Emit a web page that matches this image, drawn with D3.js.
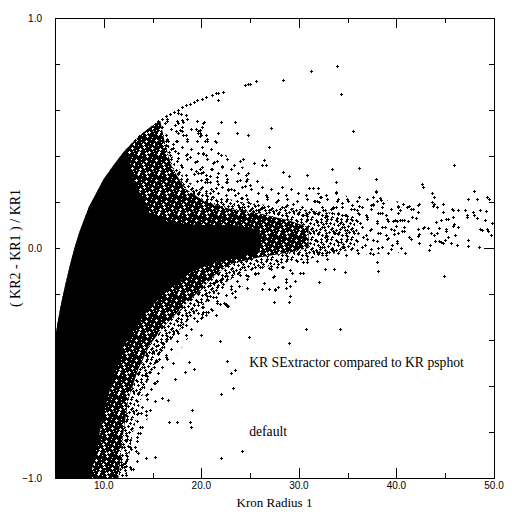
<!DOCTYPE html>
<html>
<head>
<meta charset="utf-8">
<script src="https://cdn.jsdelivr.net/npm/d3@7"></script>
<style>
  body { margin: 0; background: #fff; }
</style>
</head>
<body>
<div class="plot"></div>
<script>
// ticks
var xMajor = [10, 20, 30, 40];
var xLabels = [10, 20, 30, 40, 50];
var xMinor = [15, 25, 35, 45];
var yTicks = [-0.8, -0.6, -0.4, -0.2, 0, 0.2, 0.4, 0.6, 0.8];
var yLabels = [-1, 0, 1];

// upper envelope of the point cloud (left edge)
var envX = [5.0, 5.25, 5.5, 5.75, 6.0, 6.5, 7.0, 7.5, 8.0, 8.5, 9.0, 10.0, 11.0, 12.0, 12.4];
var envY = [-0.40, -0.33, -0.27, -0.22, -0.17, -0.08, 0.0, 0.07, 0.125, 0.18, 0.22, 0.30, 0.36, 0.415, 0.435];

// rest of the outline of the solid black core
var coreRight = [[13.0,0.30],[14.7,0.152],[16.8,0.11],[19.9,0.10],[23.3,0.10],[26.0,0.08],[26.0,-0.02],
  [23.3,-0.043],[21.4,-0.061],[18.8,-0.109],[15.8,-0.213],[13.7,-0.313],[12.0,-0.43],[10.9,-0.574],
  [9.9,-0.735],[9.3,-0.865],[8.6,-1.0]];

// heavily speckled zone round the core
var denseRight = [[13.2,0.47],[14.0,0.50],[14.8,0.527],[15.8,0.552],[16.3,0.45],[17.0,0.35],[18.3,0.26],
  [20.4,0.2],[23.0,0.17],[26.0,0.15],[29.0,0.12],[31.0,0.09],[31.0,0.0],[29.0,-0.02],[26.0,-0.04],
  [23.0,-0.07],[21.4,-0.117],[19.9,-0.183],[18.3,-0.248],[16.3,-0.335],[14.7,-0.422],[13.5,-0.53],
  [12.5,-0.661],[11.9,-0.835],[11.5,-1.0]];

// half speckled zone
var midRight = [[13.2,0.47],[14.0,0.50],[15.0,0.535],[16.3,0.50],[17.0,0.40],[18.3,0.30],[20.4,0.24],
  [24.0,0.20],[28.0,0.18],[32.0,0.16],[36.0,0.14],[36.0,0.0],[32.0,-0.04],[28.0,-0.07],[24.5,-0.10],
  [22.5,-0.15],[20.4,-0.24],[18.3,-0.33],[16.5,-0.42],[15.0,-0.52],[13.8,-0.66],[12.9,-0.82],[12.3,-1.0]];

// thinly speckled zone
var lightRight = [[13.2,0.47],[14.0,0.50],[16.0,0.562],[18.0,0.611],[20.0,0.55],[22.0,0.42],[26.0,0.30],
  [32.0,0.24],[40.5,0.20],[40.5,-0.02],[36.0,-0.03],[30.0,-0.08],[26.0,-0.12],[23.0,-0.20],[20.5,-0.30],
  [18.5,-0.40],[16.5,-0.52],[15.0,-0.66],[14.0,-0.82],[13.3,-1.0]];

// points lying on the envelope beyond the solid core
var envPts = [[12.8,0.45],[13.2,0.47],[13.6,0.485],[14.0,0.50],[14.4,0.515],[14.8,0.527],[15.2,0.54],
  [15.6,0.55],[16.0,0.562],[16.4,0.573],[16.8,0.583],[17.2,0.593],[17.6,0.602],[18.0,0.611],[18.4,0.62],
  [18.8,0.628],[19.2,0.635],[19.6,0.643],[20.1,0.65],[20.5,0.655],[21.1,0.667],[21.5,0.672],[21.7,0.675],[22.2,0.68]];

// scattered points above the stream
var upperPts = [[33.9,0.79],[31.2,0.77],[34.3,0.67],[24.5,0.71],[24.8,0.715],[25.0,0.715],[25.6,0.725],
  [28.4,0.73],[22.2,0.68],[21.7,0.642],[20.3,0.548],[20.2,0.545],[22.0,0.547],[23.4,0.547],[27.1,0.52],
  [35.5,0.507],[19.9,0.513],[20.0,0.49],[21.7,0.5],[23.7,0.499],[24.8,0.49],[20.6,0.465],[21.4,0.465],
  [26.9,0.438],[20.2,0.41],[22.0,0.403],[24.3,0.386],[24.0,0.378],[26.4,0.383],[25.4,0.368],[26.2,0.36],
  [26.6,0.36],[21.3,0.373],[22.1,0.354],[23.3,0.36],[21.1,0.342],[24.8,0.328],[28.4,0.329],[29.0,0.312],
  [30.8,0.316],[33.4,0.342],[36.2,0.347],[20.9,0.312],[20.0,0.328],[20.4,0.288],[20.6,0.287],[21.7,0.278],
  [22.6,0.288],[24.0,0.294],[24.6,0.29],[24.5,0.268],[25.0,0.272],[33.8,0.288],[37.9,0.299],[31.0,0.26],
  [31.4,0.26],[32.0,0.26],[33.8,0.242],[37.9,0.247],[20.0,0.26],[20.5,0.25],[21.2,0.25],[21.5,0.26],
  [22.7,0.254],[23.3,0.251],[23.5,0.23],[24.2,0.216],[26.7,0.222],[27.7,0.2],[27.9,0.207],[31.5,0.204],
  [31.7,0.204],[32.2,0.222],[34.0,0.211],[34.4,0.194],[35.0,0.203],[36.2,0.22],[36.2,0.184],[37.6,0.223],
  [38.3,0.216],[38.6,0.197],[37.4,0.186],[37.6,0.191],[40.2,0.183],[20.5,0.2],[20.9,0.194],[21.6,0.193],
  [22.0,0.178],[23.1,0.183],[23.9,0.178],[24.2,0.167],[25.0,0.167],[25.8,0.167],[26.9,0.167],[28.7,0.183],
  [29.4,0.19],[30.8,0.148],[31.6,0.158],[32.7,0.165],[33.5,0.178],[33.8,0.178],[35.6,0.171],[36.2,0.148],
  [38.3,0.151],[39.1,0.119],[39.6,0.119],
  [19.5,0.516],[19.7,0.51],[19.9,0.5],[19.9,0.487],[17.9,0.583],[18.0,0.557],[18.1,0.547],[16.5,0.553],
  [16.3,0.543],[17.3,0.536],[17.6,0.543],[17.4,0.507],[17.8,0.514],[18.0,0.507],[18.1,0.492],[18.5,0.464],
  [17.4,0.464],[17.1,0.452],[16.6,0.464],[16.4,0.449],[16.3,0.435],[16.1,0.428],[17.1,0.435],[17.3,0.42],
  [17.6,0.391],[17.9,0.362],[16.8,0.406],[18.5,0.409],[18.8,0.397],[19.4,0.375],[19.9,0.342],[20.2,0.332],
  [20.5,0.299],[20.0,0.296],[20.9,0.288],[21.2,0.371],[21.6,0.31],[22.0,0.404],[22.1,0.357],[22.5,0.288],
  [22.7,0.255],[20.4,0.465],[21.5,0.462],[20.2,0.412],[19.5,0.336],[19.2,0.322],
  [33.8,0.24],[36.2,0.22],[37.9,0.245],[38.4,0.209],[37.6,0.187],[35.4,0.187],[32.3,0.22],[32.1,0.2],
  [28.8,0.187],[24.1,0.216],[24.8,0.201],[25.5,0.183],[26.2,0.173],[20.9,0.24],[21.2,0.22],[20.6,0.226]];

// crosses in the stream between 30 and 40
var bandPts = [[30.4,0.143],[30.8,0.122],[31.7,0.152],[31.9,0.113],[32.5,0.165],[32.7,0.135],[32.8,0.109],
  [33.4,0.152],[33.5,0.174],[33.9,0.13],[34.2,0.109],[34.7,0.143],[34.9,0.078],[35.4,0.122],[35.6,0.065],
  [36.0,0.165],[36.3,0.109],[36.6,0.048],[37.0,0.135],[37.3,0.078],[37.6,0.035],[38.0,0.109],[38.3,0.065],
  [38.5,0.152],[38.8,0.091],[39.1,0.043],[39.7,0.078],[39.9,0.122],[40.1,0.022],[31.1,0.065],[31.7,0.035],
  [32.2,0.004],[32.7,0.048],[33.2,0.022],[33.7,0.065],[34.0,0.026],[34.5,0.004],[31.9,-0.017],[32.4,-0.022],
  [32.9,-0.017],[33.5,-0.009],[35.2,0.022],[36.0,-0.009],[36.8,0.013],[37.3,-0.022],[38.1,0.0],
  [39.1,-0.02],[37.6,-0.026],[39.5,0.013],[39.8,0.06],[40.0,0.096],[40.2,0.18]];

// tail beyond 40
var tailPts = [[45.9,0.361],[42.6,0.277],[42.7,0.267],[43.6,0.238],[43.9,0.22],[47.9,0.248],[47.3,0.212],
  [48.3,0.212],[49.3,0.22],[49.5,0.212],[40.4,0.165],[40.7,0.191],[41.1,0.178],[41.3,0.181],[41.5,0.168],
  [41.7,0.168],[42.2,0.186],[42.3,0.191],[42.2,0.155],[43.6,0.199],[43.7,0.184],[43.8,0.19],[44.2,0.177],
  [44.8,0.191],[44.8,0.155],[45.7,0.168],[45.8,0.164],[46.3,0.164],[47.0,0.164],[47.2,0.143],[47.2,0.133],
  [47.8,0.155],[47.9,0.143],[48.3,0.13],[49.2,0.161],[48.6,0.164],[45.3,0.126],[45.1,0.126],[45.8,0.136],
  [46.3,0.09],[45.8,0.096],[45.9,0.104],[45.1,0.075],[45.1,0.083],[45.0,0.035],[45.3,0.049],[45.6,0.02],
  [46.0,0.055],[46.2,0.013],[47.3,0.035],[47.3,0.01],[48.5,0.006],[48.6,0.081],[48.8,0.077],[49.3,0.081],
  [49.4,0.073],[49.7,0.057],[49.8,0.107],[49.1,0.122],[40.4,0.122],[40.6,0.12],[40.8,0.12],[40.8,0.093],
  [40.6,0.074],[40.8,0.074],[41.2,0.116],[41.6,0.133],[42.0,0.129],[41.3,0.048],[41.5,0.038],[42.2,0.082],
  [42.2,0.051],[42.3,0.06],[42.3,0.02],[42.7,0.086],[42.8,0.093],[43.2,0.086],[43.4,0.012],[43.3,-0.009],
  [43.5,0.064],[43.9,0.057],[44.0,0.03],[44.1,0.115],[44.4,0.086],[44.6,0.122],[44.8,0.155],[40.5,-0.001],
  [40.9,-0.023],[44.9,-0.122],[44.4,0.032],[44.6,0.027],[44.8,0.02],[44.2,0.066]];

// scattered points below the stream
var lowerPts = [[24.9,-0.388],[30.7,-0.354],[34.2,-0.354],[29.0,-0.413],[22.6,-0.491],[23.0,-0.545],
  [23.5,-0.53],[23.2,-0.609],[22.0,-0.636],[24.2,-0.884],[22.0,-0.915],[38.1,-0.099],[34.7,-0.106],
  [32.1,-0.149],[30.4,-0.11],[29.0,-0.236],[29.1,-0.21],[29.1,-0.165],[27.4,-0.236],[29.6,-0.143],
  [28.7,-0.135],[28.7,-0.146],[28.7,-0.175],[29.3,-0.11],[27.3,-0.127],[27.4,-0.12],[27.5,-0.183],
  [27.6,-0.18],[27.9,-0.168],[26.9,-0.18],[26.2,-0.18],[26.4,-0.154],[25.5,-0.11],[24.7,-0.175],
  [24.8,-0.122],[24.0,-0.119],[23.9,-0.165],[23.0,-0.165],[23.1,-0.197],[23.5,-0.214],[23.5,-0.188],
  [22.3,-0.24],[22.7,-0.252],[22.2,-0.157],[22.4,-0.122],[22.1,-0.136],[20.0,-0.38],[20.2,-0.28],
  [20.1,-0.30],[20.7,-0.28],[21.5,-0.293],[21.1,-0.271],[22.4,-0.245],[22.6,-0.254],[21.6,-0.24],
  [21.2,-0.214],[20.9,-0.21],[21.5,-0.214],[20.4,-0.2],[32.7,-0.093],[33.6,-0.093],[38.0,-0.062],
  [25.5,-0.084],[26.0,-0.084],[26.9,-0.088],[27.1,-0.077],[27.9,-0.068],[27.8,-0.084],[28.4,-0.084],
  [29.1,-0.094],[30.1,-0.109],[30.4,-0.06],[30.8,-0.06],[25.5,-0.115],[22.6,-0.136],[23.1,-0.119],
  [21.9,-0.139],[21.4,-0.149],[20.9,-0.161],[21.2,-0.153],
  [21.9,-0.403],[22.6,-0.493],[19.0,-0.706],[18.8,-0.755],[18.9,-0.78],[17.5,-0.758],[16.7,-0.758],
  [17.3,-0.571],[18.3,-0.541],[19.2,-0.526],[18.7,-0.494],[17.1,-0.499],[16.4,-0.475],[15.7,-0.483],
  [15.3,-0.497],[15.1,-0.585],[15.3,-0.588],[14.4,-0.636],[15.3,-0.665],[16.0,-0.652],[16.6,-0.661],
  [14.7,-0.704],[14.3,-0.707],[13.8,-0.719],[13.4,-0.722],[14.3,-0.915],[15.3,-0.91],[13.3,-0.881],
  [12.7,-0.951],[13.0,-0.962],[12.2,-0.934],[11.7,-0.907],[11.8,-0.945],
  [21.9,-0.243],[22.5,-0.243],[21.1,-0.27],[20.5,-0.277],[20.1,-0.287],[20.0,-0.306],[18.8,-0.291],
  [19.2,-0.306],[18.4,-0.335],[17.6,-0.306],[17.8,-0.335],[17.5,-0.36],[17.1,-0.375],[16.8,-0.386],
  [16.4,-0.397],[16.1,-0.414],[15.9,-0.443],[15.4,-0.426],[14.9,-0.458],[14.4,-0.465],
  [21.6,-0.168],[22.1,-0.132],[21.2,-0.212],[20.7,-0.226],[20.2,-0.255],[19.7,-0.233],[19.2,-0.248],
  [18.8,-0.223],[14.2,-0.552],[14.7,-0.538],[15.1,-0.516],
  [13.7,-0.777],[13.4,-0.82],[12.7,-0.835],[13.2,-0.864],[12.3,-0.893],[12.2,-0.835],[12.7,-0.864],
  [13.7,-0.806],[12.3,-0.948],[12.7,-0.951],[12.0,-0.939],[11.5,-0.936],[11.1,-0.968]];

var notes = ["KR SExtractor compared to KR psphot", "default"];

var serif = "'Liberation Serif', 'DejaVu Serif', serif";
var sans = "'Liberation Sans', 'DejaVu Sans', sans-serif";

var svgWidth = 512, svgHeight = 512;
var margin = { top: 18, right: 18, bottom: 34, left: 55 };
var width = svgWidth - margin.left - margin.right;
var height = svgHeight - margin.top - margin.bottom;

var svg = d3.select(".plot").append("svg")
  .attr("width", svgWidth)
  .attr("height", svgHeight);

var defs = svg.append("defs");

// speckle fills for the crowded zones (20px tiles, hand-placed marks)
var spots = [[1,2],[6,1],[11,3],[16,1],[19,6],[3,7],[8,6],[13,8],[17,10],[1,12],[5,11],[10,12],
  [14,14],[19,15],[3,16],[7,17],[12,18],[17,19],[9,9],[15,5],[4,14],[18,13],[11,15],[6,4]];

function crossPath(x, y) {
  return "M" + (x - 1) + "," + (y + 0.5) + "h3M" + (x + 0.5) + "," + (y - 1) + "v3";
}

var dense = defs.append("pattern")
  .attr("id", "dense").attr("patternUnits", "userSpaceOnUse")
  .attr("width", 20).attr("height", 20);
dense.append("rect").attr("width", 20).attr("height", 20).attr("fill", "#000");
spots.filter((p, i) => i % 2 === 0).forEach(function (p) {
  dense.append("path").attr("d", crossPath(p[0], p[1]))
    .attr("stroke", "#fff").attr("stroke-width", 1);
});
spots.filter((p, i) => i % 2 === 1).forEach(function (p) {
  dense.append("rect").attr("x", p[0]).attr("y", p[1]).attr("width", 1).attr("height", 1).attr("fill", "#fff");
});

var mid = defs.append("pattern")
  .attr("id", "mid").attr("patternUnits", "userSpaceOnUse")
  .attr("width", 20).attr("height", 20);
spots.forEach(function (p) {
  mid.append("path").attr("d", crossPath(p[0], p[1]))
    .attr("stroke", "#000").attr("stroke-width", 1);
});

var light = defs.append("pattern")
  .attr("id", "light").attr("patternUnits", "userSpaceOnUse")
  .attr("width", 20).attr("height", 20);
[[2,3],[12,1],[7,9],[16,11],[3,15],[11,17]].forEach(function (p) {
  light.append("path").attr("d", crossPath(p[0], p[1]))
    .attr("stroke", "#000").attr("stroke-width", 1);
});

var chartGroup = svg.append("g")
  .attr("transform", `translate(${margin.left}, ${margin.top})`);

var xScale = d3.scaleLinear().domain([5, 50]).range([0, width]);
var yScale = d3.scaleLinear().domain([-1, 1]).range([height, 0]);

chartGroup.append("clipPath").attr("id", "plotclip")
  .append("rect").attr("width", width).attr("height", height);

var plot = chartGroup.append("g").attr("clip-path", "url(#plotclip)");

var envelope = envX.map(function (x, i) { return [x, envY[i]]; });
var outline = d3.line().x(d => xScale(d[0])).y(d => yScale(d[1]));

[["light", lightRight], ["mid", midRight], ["dense", denseRight]].forEach(function (z) {
  plot.append("path")
    .attr("d", outline([[5, -1]].concat(envelope, z[1])) + "Z")
    .attr("fill", "url(#" + z[0] + ")");
});

plot.append("path")
  .attr("d", outline([[5, -1]].concat(envelope, coreRight)) + "Z")
  .attr("fill", "#000");

var allPts = envPts.concat(upperPts, bandPts, tailPts, lowerPts);
plot.selectAll("path.pt")
  .data(allPts)
  .enter()
  .append("path")
  .attr("class", "pt")
  .attr("d", function (d) {
    var cx = Math.round(xScale(d[0])) + 0.5;
    var cy = Math.round(yScale(d[1])) + 0.5;
    return "M" + (cx - 1.5) + "," + cy + "h3M" + cx + "," + (cy - 1.5) + "v3";
  })
  .attr("stroke", "#000")
  .attr("stroke-width", 1)
  .attr("shape-rendering", "crispEdges");

// frame
chartGroup.append("rect")
  .attr("x", 0.5).attr("y", 0.5)
  .attr("width", width).attr("height", height)
  .attr("fill", "none").attr("stroke", "#000").attr("stroke-width", 1)
  .attr("shape-rendering", "crispEdges");

// inward ticks on all four sides
function tickLine(x1, y1, x2, y2) {
  chartGroup.append("line")
    .attr("x1", x1).attr("y1", y1).attr("x2", x2).attr("y2", y2)
    .attr("stroke", "#000").attr("shape-rendering", "crispEdges");
}
xMajor.forEach(function (v) {
  var x = Math.round(xScale(v)) + 0.5;
  tickLine(x, height, x, height - 10);
  tickLine(x, 0, x, 10);
});
xMinor.forEach(function (v) {
  var x = Math.round(xScale(v)) + 0.5;
  tickLine(x, height, x, height - 5);
  tickLine(x, 0, x, 5);
});
yTicks.forEach(function (v) {
  var y = Math.round(yScale(v)) + 0.5;
  tickLine(0, y, 5, y);
  tickLine(width, y, width - (v === 0 ? 10 : 5), y);
});

chartGroup.selectAll(".xlab")
  .data(xLabels)
  .enter()
  .append("text")
  .attr("font-family", sans).attr("font-size", 10)
  .attr("x", d => xScale(d))
  .attr("y", height + 11)
  .attr("text-anchor", "middle")
  .text(d => d.toFixed(1));

chartGroup.selectAll(".ylab")
  .data(yLabels)
  .enter()
  .append("text")
  .attr("font-family", sans).attr("font-size", 10)
  .attr("x", -13)
  .attr("y", d => yScale(d) + 3.5)
  .attr("text-anchor", "end")
  .text(d => (d < 0 ? "\u2212" : "") + Math.abs(d).toFixed(1));

function serifText(x, y, s, size) {
  return chartGroup.append("text")
    .attr("font-family", serif).attr("font-size", size)
    .attr("x", x).attr("y", y)
    .text(s);
}

serifText(width / 2, height + 29, "Kron Radius 1", 13).attr("text-anchor", "middle");

chartGroup.append("text")
  .attr("font-family", serif).attr("font-size", 14)
  .attr("transform", `translate(${-35}, ${height / 2}) rotate(-90)`)
  .attr("text-anchor", "middle")
  .text("( KR2 - KR1 ) / KR1");

serifText(xScale(24.9), yScale(-0.517), notes[0], 13.7);
serifText(xScale(24.9), yScale(-0.817), notes[1], 13.7);
</script>
</body>
</html>
